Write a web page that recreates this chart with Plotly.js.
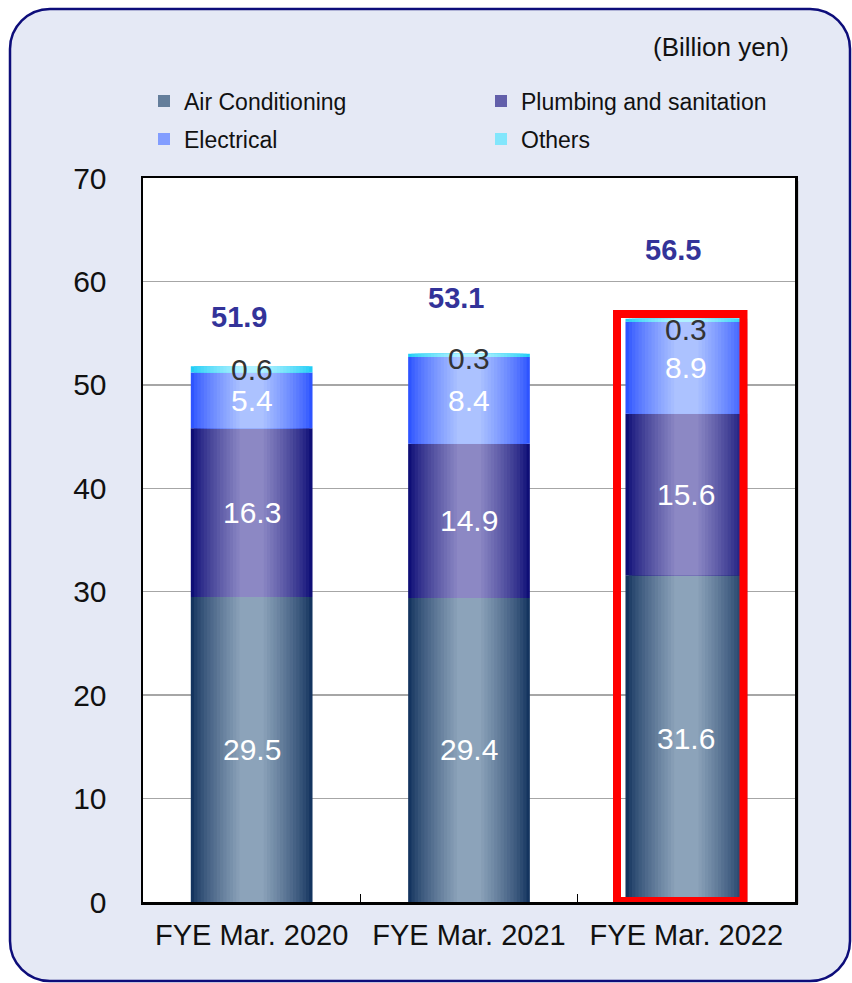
<!DOCTYPE html>
<html>
<head>
<meta charset="utf-8">
<script src="https://cdn.plot.ly/plotly-3.0.1.min.js"></script>
<style>
  html, body { margin: 0; padding: 0; background: #ffffff; }
  #chart { width: 852px; height: 983px; }
</style>
</head>
<body>
<div id="chart"></div>
<script>
// Net sales by business segment (billion yen)
const years = ['FYE Mar. 2020', 'FYE Mar. 2021', 'FYE Mar. 2022'];
const airConditioning = [29.5, 29.4, 31.6];
const plumbing = [16.3, 14.9, 15.6];
const electrical = [5.4, 8.4, 8.9];
const others = [0.6, 0.3, 0.3];
const totals = [51.9, 53.1, 56.5];
const seriesNames = ['Air Conditioning', 'Plumbing and sanitation', 'Electrical', 'Others'];
const yTicks = [0, 10, 20, 30, 40, 50, 60, 70];
const unitLabel = '(Billion yen)';

// ---- styling ----
const FONT = 'Liberation Sans, Arial, Helvetica, sans-serif';
const W = 852, H = 983;
const M = { l: 143, r: 57, t: 178, b: 81 };
const PW = W - M.l - M.r, PH = H - M.t - M.b;
const px2x = px => (px - M.l) / PW;
const py2y = py => (H - M.b - py) / PH;

// edge colour -> centre colour of each segment's cylinder-like shading
const shades = [
  { edge: [20, 52, 95],   centre: [140, 163, 186] },
  { edge: [14, 14, 118],  centre: [140, 136, 196] },
  { edge: [46, 84, 255],  centre: [172, 194, 255] },
  { edge: [34, 206, 246], centre: [178, 242, 255] }
];
const labelColours = ['#ffffff', '#ffffff', '#ffffff', '#333333'];

const series = [airConditioning, plumbing, electrical, others];
const BAR_W = 0.56;
const STEPS = 16;

// one legend box per series, laid out as a 2 x 2 grid
const legendIds = ['legend', 'legend2', 'legend3', 'legend4'];
const legendSpots = [[144, 101], [481, 101], [144, 139], [481, 139]];

function mix(a, b, t) {
  return 'rgb(' + a.map((v, i) => Math.round(v + (b[i] - v) * t)).join(',') + ')';
}

// stacked bases
const bases = [];
let running = years.map(() => 0);
series.forEach(vals => {
  bases.push(running.slice());
  running = running.map((b, i) => b + vals[i]);
});

const traces = [];
series.forEach((vals, s) => {
  for (let k = 0; k < STEPS; k++) {
    const t = k / (STEPS - 1);
    const w = BAR_W * (1 - 0.8 * t);
    const colour = mix(shades[s].edge, shades[s].centre, Math.pow(t, 0.8));
    traces.push({
      type: 'bar',
      name: seriesNames[s],
      x: years,
      y: vals,
      base: bases[s],
      width: w,
      marker: { color: colour, line: { width: 0 }, opacity: 1 },
      showlegend: k === 9,
      legend: legendIds[s],
      hoverinfo: 'skip'
    });
  }
});

// value labels inside the segments
const annotations = [];
const othersShift = [0, -3, -9];
series.forEach((vals, s) => {
  vals.forEach((v, i) => {
    annotations.push({
      x: years[i], y: bases[s][i] + v / 2, xref: 'x', yref: 'y',
      text: v.toFixed(1), showarrow: false,
      yshift: s === 3 ? othersShift[i] : 0,
      font: { family: FONT, size: 30, color: labelColours[s] }
    });
  });
});

// totals above the bars
const totalShift = [48, 55, 68];
totals.forEach((v, i) => {
  annotations.push({
    x: years[i], y: v, xref: 'x', yref: 'y',
    text: v.toFixed(1), showarrow: false,
    xshift: -13, yshift: totalShift[i],
    font: { family: FONT, size: 29, color: '#333399', weight: 700 }
  });
});

annotations.push({
  x: px2x(791), y: py2y(47), xref: 'paper', yref: 'paper',
  xanchor: 'right', yanchor: 'middle', showarrow: false,
  text: unitLabel, font: { family: FONT, size: 26, color: '#111111' }
});

// rounded panel behind everything
function roundedPath(x0, y0, x1, y1, r) {
  const c = 0.5523 * r;
  const P = (x, y) => px2x(x).toFixed(5) + ',' + py2y(y).toFixed(5);
  return 'M' + P(x0 + r, y0) +
    ' L' + P(x1 - r, y0) +
    ' C' + P(x1 - r + c, y0) + ' ' + P(x1, y0 + r - c) + ' ' + P(x1, y0 + r) +
    ' L' + P(x1, y1 - r) +
    ' C' + P(x1, y1 - r + c) + ' ' + P(x1 - r + c, y1) + ' ' + P(x1 - r, y1) +
    ' L' + P(x0 + r, y1) +
    ' C' + P(x0 + r - c, y1) + ' ' + P(x0, y1 - r + c) + ' ' + P(x0, y1 - r) +
    ' L' + P(x0, y0 + r) +
    ' C' + P(x0, y0 + r - c) + ' ' + P(x0 + r - c, y0) + ' ' + P(x0 + r, y0) + ' Z';
}

const hi = years.length - 1;
const shapes = [
  {
    type: 'path', xref: 'paper', yref: 'paper', layer: 'below',
    path: roundedPath(10, 9, 850, 981, 40),
    fillcolor: '#e5e9f5', line: { color: '#0d0d7a', width: 2.5 }
  },
  {
    type: 'rect', xref: 'x', yref: 'y', layer: 'below',
    x0: -0.5, x1: years.length - 0.5, y0: yTicks[0], y1: yTicks[yTicks.length - 1],
    fillcolor: '#ffffff', line: { width: 0 }
  },
  // soft shadow along the right edge of the plot frame
  {
    type: 'line', xref: 'paper', yref: 'paper', layer: 'below',
    x0: px2x(797.5), x1: px2x(797.5), y0: py2y(181), y1: py2y(904),
    line: { color: '#b8b8b8', width: 2 }
  },
  {
    type: 'rect', xref: 'x', yref: 'y', layer: 'above',
    x0: hi - 0.319, x1: hi + 0.263, y0: 0.1, y1: totals[hi] + 0.35,
    fillcolor: 'rgba(0,0,0,0)', line: { color: '#ff0000', width: 8 }
  }
];

const layout = {
  width: W, height: H,
  margin: M,
  paper_bgcolor: '#ffffff',
  plot_bgcolor: 'rgba(0,0,0,0)',
  barmode: 'overlay',
  font: { family: FONT, color: '#111111' },
  showlegend: true,
  xaxis: {
    type: 'category', range: [-0.5, years.length - 0.5],
    tickson: 'boundaries', ticks: 'inside', ticklen: 8, tickwidth: 1.5, tickcolor: '#000',
    showgrid: false, zeroline: false,
    showline: true, mirror: true, linecolor: '#000', linewidth: 2.5,
    ticklabelstandoff: 6,
    tickfont: { family: FONT, size: 29, color: '#111111' }
  },
  yaxis: {
    range: [yTicks[0], yTicks[yTicks.length - 1]],
    tickvals: yTicks, ticktext: yTicks.map(String),
    ticks: '', showgrid: true, gridcolor: '#a6a6a6', gridwidth: 1.5,
    zeroline: false, showline: true, mirror: true, linecolor: '#000', linewidth: 2.5,
    ticklabelstandoff: 28,
    tickfont: { family: FONT, size: 30, color: '#111111' }
  },
  shapes: shapes,
  annotations: annotations
};

legendIds.forEach((id, s) => {
  layout[id] = {
    orientation: 'v', xanchor: 'left', yanchor: 'middle',
    x: px2x(legendSpots[s][0]), y: py2y(legendSpots[s][1]),
    font: { family: FONT, size: 23, color: '#111111' },
    bgcolor: 'rgba(0,0,0,0)', borderwidth: 0,
    itemclick: false, itemdoubleclick: false
  };
});

Plotly.newPlot('chart', traces, layout, { staticPlot: true, displayModeBar: false });
</script>
</body>
</html>
